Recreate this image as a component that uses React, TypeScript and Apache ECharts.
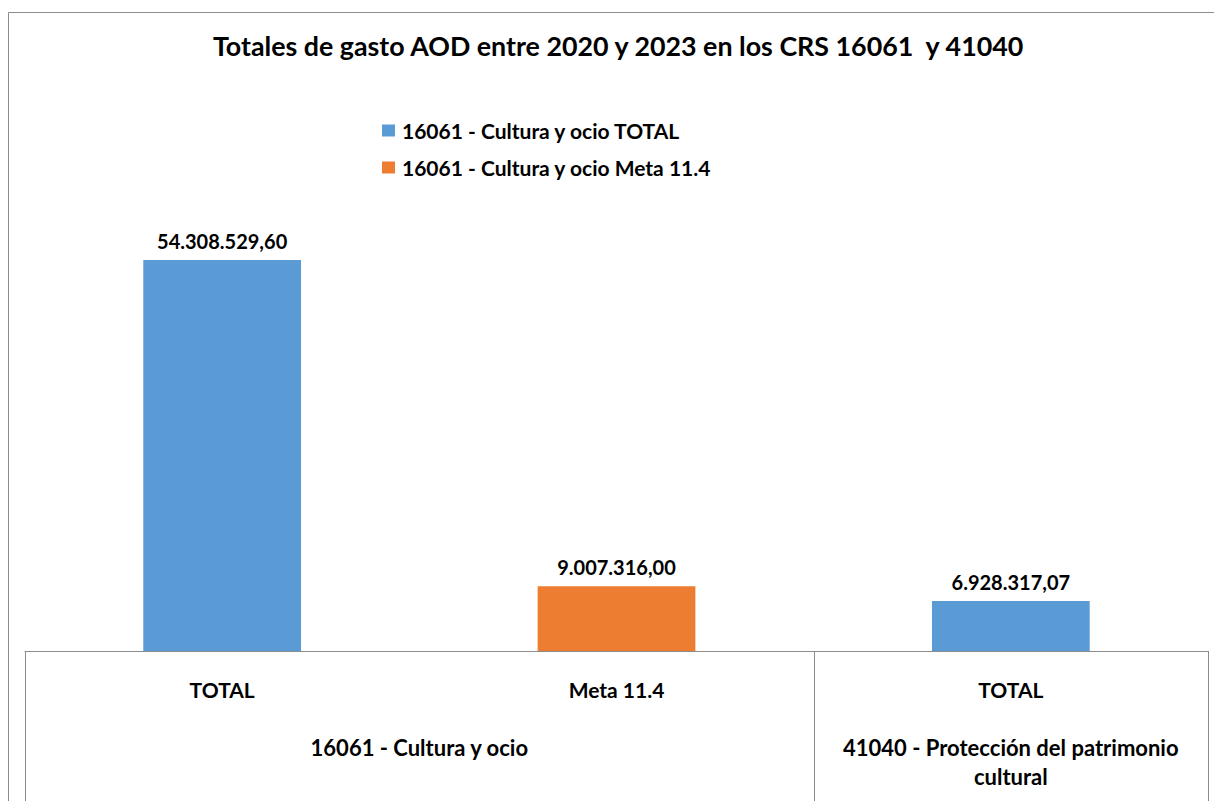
import React, { useEffect, useRef } from "react";
import * as echarts from "echarts";

const categories = ["TOTAL", "Meta 11.4", "TOTAL"];
const groupNames = ["16061 - Cultura y ocio", "41040 - Protección del patrimonio\ncultural"];
const groupSpans = [2, 1];
const seriesNames = ["16061 - Cultura y ocio TOTAL", "16061 - Cultura y ocio Meta 11.4"];
const totalValues: (number | null)[] = [54308529.6, null, 6928317.07];
const metaValues: (number | null)[] = [null, 9007316.0, null];
const titleText = "Totales de gasto AOD entre 2020 y 2023 en los CRS 16061  y 41040";

const FONT = "Lato, 'Liberation Sans', sans-serif";
const GRAY = "#8c8c8c";

function fmt(v: number): string {
  const fixed = v.toFixed(2);
  const [int, dec] = fixed.split(".");
  const grouped = int.replace(/\B(?=(\d{3})+(?!\d))/g, ".");
  return grouped + "," + dec;
}

export default function App() {
  const ref = useRef<HTMLDivElement>(null);
  useEffect(() => {
    if (!ref.current) return;
    const chart = echarts.init(ref.current, null, { renderer: "svg" });
    const label = {
      show: true,
      position: "top" as const,
      distance: 9,
      fontFamily: FONT,
      fontWeight: "bold" as const,
      fontSize: 20,
      color: "#000",
      formatter: (p: any) => (p.value == null ? "" : fmt(p.value)),
    };
    chart.setOption({
      animation: false,
      backgroundColor: "#fff",
      title: {
        text: titleText,
        left: 208,
        top: 27,
        textStyle: { fontFamily: FONT, fontWeight: "bold", fontSize: 26.8, color: "#000" },
      },
      legend: {
        orient: "vertical",
        left: 382,
        top: 120,
        padding: 0,
        itemWidth: 13,
        itemHeight: 12,
        itemGap: 16,
        icon: "rect",
        data: seriesNames,
        textStyle: { fontFamily: FONT, fontWeight: "bold", fontSize: 21, color: "#000", padding: [0, 0, 0, 2] },
      },
      grid: { left: 25, right: 6, top: 75, bottom: 150, containLabel: false },
      xAxis: {
        type: "category",
        data: categories,
        axisLine: { show: true, lineStyle: { color: GRAY, width: 1 } },
        axisTick: { show: false },
        axisLabel: {
          margin: 28,
          fontFamily: FONT,
          fontWeight: "bold",
          fontSize: 21,
          color: "#000",
        },
      },
      yAxis: {
        type: "value",
        min: 0,
        max: 80000000,
        show: false,
        splitLine: { show: false },
      },
      series: [
        {
          name: seriesNames[0],
          type: "bar",
          stack: "s",
          barWidth: "40%",
          data: totalValues,
          itemStyle: { color: "#5B9BD5" },
          label,
        },
        {
          name: seriesNames[1],
          type: "bar",
          stack: "s",
          barWidth: "40%",
          data: metaValues,
          itemStyle: { color: "#ED7D31" },
          label,
        },
      ],
    });

    // Build the group level of the axis from the category scale
    const c0 = chart.convertToPixel({ xAxisIndex: 0 }, 0) as number;
    const c1 = chart.convertToPixel({ xAxisIndex: 0 }, 1) as number;
    const step = c1 - c0;
    const baseY = chart.convertToPixel({ yAxisIndex: 0 }, 0) as number;
    const graphics: any[] = [
      {
        type: "rect",
        shape: { x: 8.5, y: 12.5, width: 1230, height: 820 },
        style: { fill: "none", stroke: GRAY, lineWidth: 1 },
        silent: true,
        z: -1,
      },
    ];
    let idx = 0;
    const edges: number[] = [c0 - step / 2];
    groupNames.forEach((name, g) => {
      const start = c0 + (idx - 0.5) * step;
      const end = c0 + (idx + groupSpans[g] - 0.5) * step;
      edges.push(end);
      graphics.push({
        type: "text",
        x: (start + end) / 2,
        y: 733,
        style: {
          text: name,
          fontFamily: FONT,
          fontWeight: "bold",
          fontSize: 22,
          fill: "#000",
          align: "center",
          verticalAlign: "top",
          lineHeight: 29,
        },
      });
      idx += groupSpans[g];
    });
    edges.forEach((x) => {
      const xx = Math.round(x) + 0.5;
      graphics.push({
        type: "line",
        shape: { x1: xx, y1: baseY, x2: xx, y2: 801 },
        style: { stroke: GRAY, lineWidth: 1 },
        silent: true,
      });
    });
    chart.setOption({ graphic: graphics });

    return () => chart.dispose();
  }, []);
  return (
    <div
      ref={ref}
      style={{ position: "fixed", left: 0, top: 0, width: 1214, height: 801 }}
    />
  );
}
